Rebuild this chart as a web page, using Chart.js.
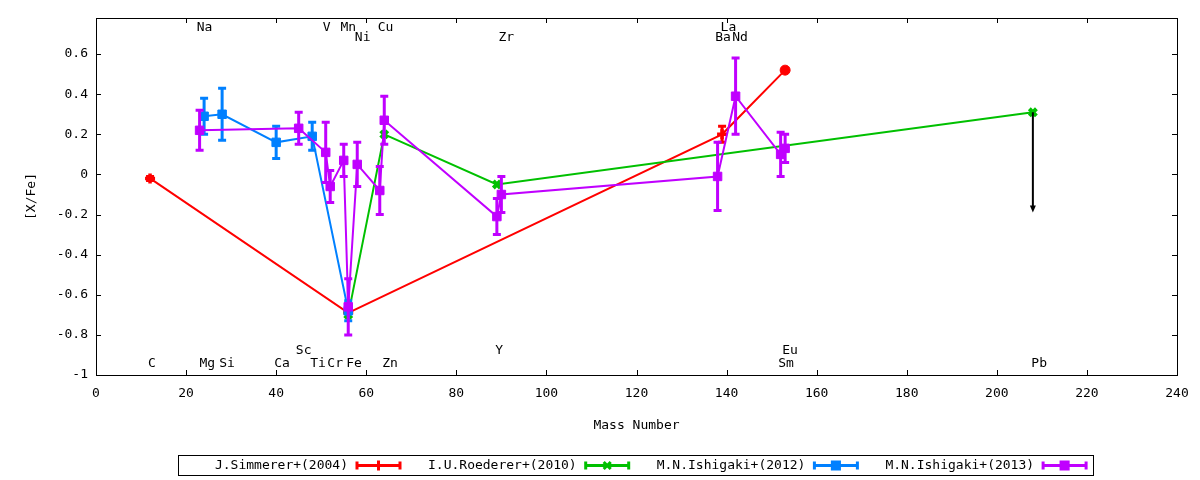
<!DOCTYPE html>
<html>
<head>
<meta charset="utf-8">
<script src="https://cdn.jsdelivr.net/npm/chart.js@4.4.1/dist/chart.umd.min.js"></script>
<style>
  html, body { margin: 0; padding: 0; background: #fff; }
  #wrap { width: 1200px; height: 480px; }
</style>
</head>
<body>
<div id="wrap"><canvas id="chart" width="1200" height="480"></canvas></div>
<script>
// --- dados ---
const massSimmerer = [12, 56, 139, 153];
const valSimmerer  = [-0.02, -0.69, 0.20, 0.52];
const errSimmerer  = [0.01, 0, 0.04, 0];

const massRoederer = [56, 64, 89, 208];
const valRoederer  = [-0.70, 0.20, -0.05, 0.31];
const errRoederer  = [0, 0, 0, 0];

const massIshigaki12 = [24, 28, 40, 48, 56];
const valIshigaki12  = [0.29, 0.30, 0.16, 0.19, -0.68];
const errIshigaki12  = [0.09, 0.13, 0.08, 0.07, 0.05];

const massIshigaki13 = [23, 45, 51, 52, 55, 56, 58, 63, 64, 89, 90, 138, 142, 152, 153];
const valIshigaki13  = [0.22, 0.23, 0.11, -0.06, 0.07, -0.66, 0.05, -0.08, 0.27, -0.21, -0.10, -0.01, 0.39, 0.10, 0.13];
const errIshigaki13  = [0.10, 0.08, 0.15, 0.08, 0.08, 0.14, 0.11, 0.12, 0.12, 0.09, 0.09, 0.17, 0.19, 0.11, 0.07];

// limite superior do Pb (seta)
const pbLimitMass = 208;
const pbLimitFrom = 0.31;
const pbLimitTo   = -0.19;

// nomes dos elementos (posicao em coordenadas do grafico)
const elementNames = ['C', 'Na', 'Mg', 'Si', 'Ca', 'Sc', 'Ti', 'V', 'Cr', 'Mn', 'Fe', 'Ni', 'Cu', 'Zn',
                      'Y', 'Zr', 'Ba', 'La', 'Nd', 'Sm', 'Eu', 'Pb'];
const elementX = [12.4, 24.1, 24.7, 29.1, 41.3, 46.1, 49.3, 51.2, 53.1, 56.0, 57.3, 59.2, 64.3, 65.3,
                  89.5, 91.1, 139.2, 140.4, 143.0, 153.2, 154.1, 209.4];
const elementY = [-0.945, 0.73, -0.945, -0.945, -0.945, -0.878, -0.945, 0.73, -0.945, 0.73, -0.945, 0.68, 0.73, -0.945,
                  -0.878, 0.68, 0.68, 0.73, 0.68, -0.945, -0.878, -0.945];

const xTicks = { min: 0, max: 240, step: 20 };
const yTicks = { min: -1, max: 0.78, step: 0.2 };

// cores padrao do gnuplot
const red = '#ff0000';
const green = '#00c000';
const blue = '#0080ff';
const magenta = '#c000ff';

const FONT = "'DejaVu Sans Mono', monospace";
Chart.defaults.font.family = FONT;
Chart.defaults.font.size = 13;
Chart.defaults.color = '#000';

function toPoints(xs, ys) {
    return xs.map((x, i) => ({ x: x, y: ys[i] }));
}

// barras de erro desenhadas pelas escalas do chart
const errorBars = {
    id: 'errorBars',
    beforeDatasetDraw(chart, args) {
        const ds = chart.data.datasets[args.index];
        if (!ds.yErr) return;
        const xs = chart.scales.x, ys = chart.scales.y;
        const ctx = chart.ctx;
        ctx.save();
        ctx.strokeStyle = ds.borderColor;
        ctx.lineWidth = 3;
        ds.data.forEach((p, i) => {
            const e = ds.yErr[i];
            if (!e) return;
            const px = xs.getPixelForValue(p.x);
            const top = ys.getPixelForValue(p.y + e);
            const bot = ys.getPixelForValue(p.y - e);
            ctx.beginPath();
            ctx.moveTo(px, top); ctx.lineTo(px, bot);
            ctx.moveTo(px - 4, top); ctx.lineTo(px + 4, top);
            ctx.moveTo(px - 4, bot); ctx.lineTo(px + 4, bot);
            ctx.stroke();
        });
        ctx.restore();
    }
};

// moldura com ticks para dentro, rotulos dos elementos, seta e legenda
const decorations = {
    id: 'decorations',
    afterDraw(chart) {
        const { ctx, chartArea: a } = chart;
        const xs = chart.scales.x, ys = chart.scales.y;
        ctx.save();
        ctx.strokeStyle = '#000';
        ctx.lineWidth = 1;
        ctx.strokeRect(a.left + 0.5, a.top + 0.5, a.right - a.left, a.bottom - a.top);

        ctx.beginPath();
        xs.ticks.forEach(t => {
            const px = Math.round(xs.getPixelForValue(t.value)) + 0.5;
            ctx.moveTo(px, a.bottom); ctx.lineTo(px, a.bottom - 5);
            ctx.moveTo(px, a.top); ctx.lineTo(px, a.top + 5);
        });
        ys.ticks.forEach(t => {
            const py = Math.round(ys.getPixelForValue(t.value)) + 0.5;
            ctx.moveTo(a.left, py); ctx.lineTo(a.left + 5, py);
            ctx.moveTo(a.right, py); ctx.lineTo(a.right - 5, py);
        });
        ctx.stroke();

        // nomes dos elementos
        ctx.fillStyle = '#000';
        ctx.font = '13px ' + FONT;
        ctx.textAlign = 'center';
        ctx.textBaseline = 'middle';
        elementNames.forEach((n, i) => {
            ctx.fillText(n, xs.getPixelForValue(elementX[i]), ys.getPixelForValue(elementY[i]));
        });

        // seta de limite superior do Pb
        const ax = xs.getPixelForValue(pbLimitMass);
        const ay0 = ys.getPixelForValue(pbLimitFrom);
        const ay1 = ys.getPixelForValue(pbLimitTo);
        ctx.lineWidth = 2;
        ctx.beginPath();
        ctx.moveTo(ax, ay0); ctx.lineTo(ax, ay1 - 6);
        ctx.stroke();
        ctx.beginPath();
        ctx.moveTo(ax - 3, ay1 - 7); ctx.lineTo(ax + 3, ay1 - 7); ctx.lineTo(ax, ay1);
        ctx.closePath();
        ctx.fill();

        // legenda no estilo do gnuplot
        ctx.lineWidth = 1;
        ctx.strokeRect(178.5, 455.5, 915, 20);
        const ds = chart.data.datasets.slice().sort((p, q) => q.order - p.order);
        ds.forEach((d, k) => {
            const x0 = 178 + k * 228.7;
            const cy = 465.5;
            ctx.fillStyle = '#000';
            ctx.textAlign = 'right';
            ctx.fillText(d.label, x0 + 170, cy);
            const s0 = x0 + 179, s1 = x0 + 222;
            ctx.strokeStyle = d.borderColor;
            ctx.fillStyle = d.borderColor;
            ctx.lineWidth = 3;
            ctx.beginPath();
            ctx.moveTo(s0, cy); ctx.lineTo(s1, cy);
            ctx.moveTo(s0, cy - 4); ctx.lineTo(s0, cy + 4);
            ctx.moveTo(s1, cy - 4); ctx.lineTo(s1, cy + 4);
            ctx.stroke();
            const style = Array.isArray(d.pointStyle) ? d.pointStyle[0] : d.pointStyle;
            const bw = Array.isArray(d.pointBorderWidth) ? d.pointBorderWidth[0] : d.pointBorderWidth;
            Chart.helpers.drawPoint(ctx, { pointStyle: style, radius: 5, borderWidth: bw, rotation: 0 },
                (s0 + s1) / 2, cy);
        });
        ctx.restore();
    }
};

new Chart(document.getElementById('chart'), {
    type: 'line',
    data: {
        datasets: [
            {
                label: 'J.Simmerer+(2004)',
                data: toPoints(massSimmerer, valSimmerer),
                yErr: errSimmerer,
                borderColor: red, backgroundColor: red,
                borderWidth: 2,
                pointStyle: ['cross', 'cross', 'cross', 'circle'],
                pointRadius: [5, 5, 5, 5],
                pointBorderWidth: [3.5, 3.5, 3.5, 1],
                order: 3
            },
            {
                label: 'I.U.Roederer+(2010)',
                data: toPoints(massRoederer, valRoederer),
                yErr: errRoederer,
                borderColor: green, backgroundColor: green,
                borderWidth: 2,
                pointStyle: 'crossRot',
                pointRadius: 5,
                pointBorderWidth: 4,
                order: 2
            },
            {
                label: 'M.N.Ishigaki+(2012)',
                data: toPoints(massIshigaki12, valIshigaki12),
                yErr: errIshigaki12,
                borderColor: blue, backgroundColor: blue,
                borderWidth: 2,
                pointStyle: 'rect',
                pointRadius: 6,
                pointBorderWidth: 1,
                order: 1
            },
            {
                label: 'M.N.Ishigaki+(2013)',
                data: toPoints(massIshigaki13, valIshigaki13),
                yErr: errIshigaki13,
                borderColor: magenta, backgroundColor: magenta,
                borderWidth: 2,
                pointStyle: 'rect',
                pointRadius: 6,
                pointBorderWidth: 1,
                order: 0
            }
        ]
    },
    options: {
        responsive: false,
        animation: false,
        events: [],
        layout: { padding: { top: 18, right: 23, bottom: 0, left: 0 } },
        plugins: {
            legend: { display: false },
            tooltip: { enabled: false }
        },
        elements: { line: { tension: 0, fill: false } },
        scales: {
            x: {
                type: 'linear',
                min: xTicks.min, max: xTicks.max,
                ticks: { stepSize: xTicks.step, padding: 11, maxRotation: 0 },
                grid: { display: false, drawTicks: false },
                border: { display: false },
                title: { display: true, text: 'Mass Number', padding: { top: 0, bottom: 47 } },
                afterFit(scale) { scale.height = 105; }
            },
            y: {
                min: yTicks.min, max: yTicks.max,
                ticks: {
                    stepSize: yTicks.step,
                    includeBounds: false,
                    padding: 8,
                    callback: v => String(Math.round(v * 10) / 10)
                },
                grid: { display: false, drawTicks: false },
                border: { display: false },
                title: { display: true, text: '[X/Fe]', padding: { top: 24, bottom: 0 } },
                afterFit(scale) { scale.width = 96; }
            }
        }
    },
    plugins: [errorBars, decorations]
});
</script>
</body>
</html>
